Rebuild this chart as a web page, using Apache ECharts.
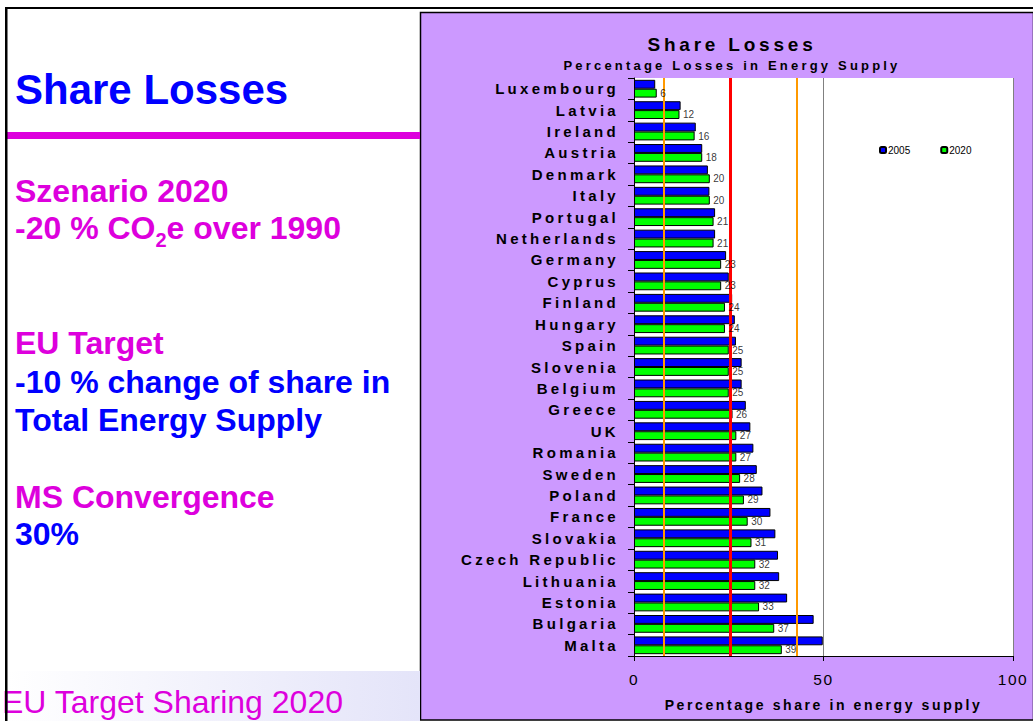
<!DOCTYPE html>
<html>
<head>
<meta charset="utf-8">
<title>Share Losses</title>
<script src="https://cdn.jsdelivr.net/npm/echarts@6/dist/echarts.min.js"></script>
<style>
  html, body { margin: 0; padding: 0; background: #fff; }
  #chart { width: 1033px; height: 721px; }
  /* wide tracking used by the chart lettering */
  #chart text[style*="15px"] { letter-spacing: 3.3px; }
  #chart text[style*="15.5px"] { letter-spacing: 1.6px; }
  #chart text[style*="19px"] { letter-spacing: 3.8px; }
  #chart text[style*="14px"] { letter-spacing: 2.6px; }
  #chart text[style*="13px"] { letter-spacing: 3.2px; }
</style>
</head>
<body>
<div id="chart"></div>
<script>
// Member states, ordered by their 2020 share
const countries = [
  'Luxembourg', 'Latvia', 'Ireland', 'Austria', 'Denmark', 'Italy', 'Portugal',
  'Netherlands', 'Germany', 'Cyprus', 'Finland', 'Hungary', 'Spain', 'Slovenia',
  'Belgium', 'Greece', 'UK', 'Romania', 'Sweden', 'Poland', 'France', 'Slovakia',
  'Czech Republic', 'Lithuania', 'Estonia', 'Bulgaria', 'Malta'
];

// Percentage losses in energy supply
const share2005 = [
  5.6, 12.3, 16.3, 18.0, 19.5, 19.9, 21.4, 21.4, 24.3, 25.0, 25.9, 26.6, 26.9,
  28.4, 28.4, 29.5, 30.7, 31.5, 32.4, 33.9, 36.0, 37.3, 38.0, 38.3, 40.4, 47.4, 49.8
];
const share2020 = [
  6, 12, 16, 18, 20, 20, 21, 21, 23, 23, 24, 24, 25, 25, 25, 26, 27, 27, 28, 29,
  30, 31, 32, 32, 33, 37, 39
];

// Reference levels drawn across the bars
const lowerBand = 7.8;
const average2020 = 25.5;
const upperBand = 42.9;

// Value axis range
const axisMin = 0;
const axisMax = 100;
const axisStep = 50;

const seriesNames = ['2005', '2020'];

const MAGENTA = '#dd00dd';
const BLUE = '#0000ff';
const FONT = 'Liberation Sans';

const chart = echarts.init(document.getElementById('chart'), null, { renderer: 'svg' });

function sideText(text, x, y, size, color, weight) {
  return {
    type: 'text', x: x, y: y, z: 5,
    style: {
      text: text, fill: color, fontSize: size, fontWeight: weight || 'bold',
      fontFamily: FONT, align: 'left', verticalAlign: 'middle'
    }
  };
}

// value labels of the 2020 bars, kept above the reference lines
const labelPoints = share2020.map((v, i) => [v, countries[i]]);

const option = {
  animation: false,
  backgroundColor: '#ffffff',
  title: [
    {
      text: 'Share Losses', left: 727, top: 30, textAlign: 'center',
      textStyle: { fontFamily: FONT, fontSize: 19, fontWeight: 'bold', color: '#000' }
    },
    {
      text: 'Percentage Losses in Energy Supply', left: 727, top: 54, textAlign: 'center',
      textStyle: { fontFamily: FONT, fontSize: 13, fontWeight: 'bold', color: '#000' }
    }
  ],
  legend: {
    data: seriesNames,
    left: 879, top: 145, padding: 0,
    itemWidth: 6, itemHeight: 6, itemGap: 30,
    textStyle: { fontFamily: FONT, fontSize: 10, color: '#000', padding: [0, 0, 0, -3] }
  },
  grid: {
    left: 634, right: 20, top: 78, bottom: 65,
    show: true, backgroundColor: '#ffffff', borderWidth: 0,
    containLabel: false
  },
  xAxis: {
    type: 'value', min: axisMin, max: axisMax, interval: axisStep,
    name: 'Percentage share in energy supply',
    nameLocation: 'middle', nameGap: 42,
    nameTextStyle: { fontFamily: FONT, fontSize: 14, fontWeight: 'bold', color: '#000' },
    axisLine: { show: true, lineStyle: { color: '#000', width: 1 } },
    axisTick: { show: true, length: 5, lineStyle: { color: '#000' } },
    axisLabel: { fontFamily: FONT, fontSize: 15.5, color: '#000', margin: 15 },
    splitLine: { show: true, lineStyle: { color: '#808080', width: 1 } }
  },
  yAxis: {
    type: 'category', data: countries, inverse: true,
    axisLine: { show: true, lineStyle: { color: '#000', width: 1 } },
    axisTick: { show: true, length: 6, lineStyle: { color: '#000' } },
    axisLabel: { fontFamily: FONT, fontSize: 15, fontWeight: 'bold', color: '#000', margin: 15 },
    splitLine: { show: false }
  },
  series: [
    {
      name: seriesNames[0], type: 'bar', data: share2005,
      barGap: '0%', barCategoryGap: '17%',
      itemStyle: { color: BLUE, borderColor: '#000', borderWidth: 1 }
    },
    {
      name: seriesNames[1], type: 'bar', data: share2020,
      barGap: '0%', barCategoryGap: '17%',
      itemStyle: { color: '#00ff00', borderColor: '#000', borderWidth: 1 },
      markLine: {
        silent: true, symbol: 'none', animation: false,
        label: { show: false },
        data: [
          { xAxis: lowerBand, lineStyle: { color: '#ff9900', width: 2, type: 'solid' } },
          { xAxis: average2020, lineStyle: { color: '#ff0000', width: 3, type: 'solid' } },
          { xAxis: upperBand, lineStyle: { color: '#ff9900', width: 2, type: 'solid' } }
        ]
      }
    },
    {
      name: 'values2020', type: 'scatter', data: labelPoints,
      symbol: 'rect', symbolSize: 1, z: 10, silent: true,
      itemStyle: { color: 'rgba(0,0,0,0)' },
      label: {
        show: true, position: 'right', distance: 3, offset: [0, 4.5],
        formatter: p => p.value[0],
        fontFamily: FONT, fontSize: 10, color: '#000'
      }
    }
  ],
  graphic: [
    // chart panel
    {
      type: 'rect', z: -10,
      shape: { x: 420.5, y: 12.5, width: 613, height: 707.5 },
      style: { fill: '#cc99ff', stroke: '#000', lineWidth: 1.5 }
    },
    // footer band
    {
      type: 'rect', z: 1,
      shape: { x: 7, y: 671, width: 413, height: 50 },
      style: {
        fill: new echarts.graphic.LinearGradient(0, 0, 1, 0, [
          { offset: 0, color: '#ffffff' },
          { offset: 1, color: '#e4e4f9' }
        ])
      }
    },
    // heading rule
    {
      type: 'rect', z: 5,
      shape: { x: 7, y: 132, width: 413, height: 7 },
      style: { fill: MAGENTA }
    },
    sideText('Share Losses', 15, 89, 42, BLUE),
    sideText('Szenario 2020', 15, 191, 32, MAGENTA),
    {
      type: 'text', x: 15, y: 227.5, z: 5,
      style: {
        text: '{a|-20 % CO}{b|2}{a|e over 1990}',
        align: 'left', verticalAlign: 'middle',
        rich: {
          a: { fontFamily: FONT, fontSize: 32, fontWeight: 'bold', fill: MAGENTA, lineHeight: 34 },
          b: { fontFamily: FONT, fontSize: 20, fontWeight: 'bold', fill: MAGENTA, lineHeight: 20, padding: [25, 0, 0, 0] }
        }
      }
    },
    sideText('EU Target', 15, 343, 32, MAGENTA),
    sideText('-10 % change of share in', 15, 382, 32, BLUE),
    sideText('Total Energy Supply', 15, 420, 32, BLUE),
    sideText('MS Convergence', 15, 497, 32, MAGENTA),
    sideText('30%', 15, 534, 32, BLUE),
    sideText('EU Target Sharing 2020', 2, 702, 32, MAGENTA, 'normal'),
    // page frame
    {
      type: 'rect', z: 50,
      shape: { x: 5, y: 7, width: 1028, height: 2 },
      style: { fill: '#000' }
    },
    {
      type: 'rect', z: 50,
      shape: { x: 5, y: 7, width: 2.5, height: 714 },
      style: { fill: '#000' }
    }
  ]
};

chart.setOption(option);
</script>
</body>
</html>
